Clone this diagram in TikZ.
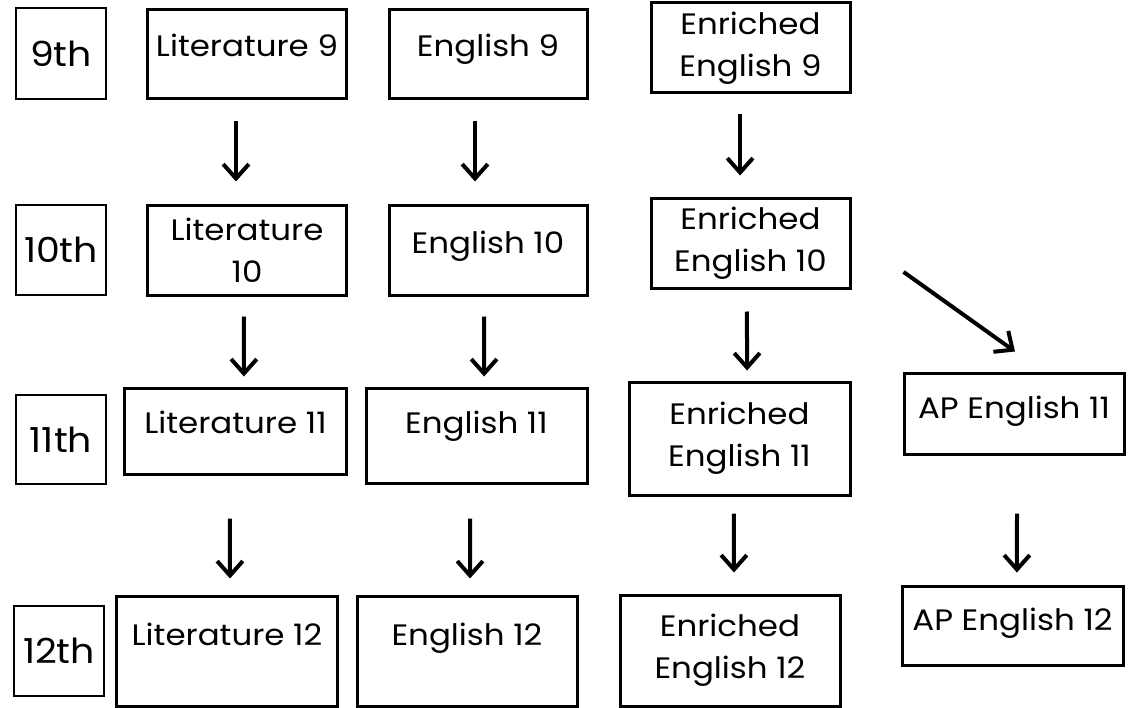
\documentclass[tikz,border=0pt]{standalone}
\usepackage{fontspec}
\setmainfont{Poppins}[FakeStretch=1.1]
\usetikzlibrary{arrows.meta}

\begin{document}
\begin{tikzpicture}[x=0.25mm, y=-0.25mm,
		grade/.style={draw, line width=0.4mm, inner sep=0pt, font=\fontsize{24.5}{30}\selectfont},
		course/.style={draw, line width=0.75mm, inner sep=0pt, align=center, font=\fontsize{21}{30}\selectfont},
		lift/.style={text height=14pt, text depth=#1},
		arr/.style={line width=1mm, -{Straight Barb[length=3.6mm, width=6.4mm]}}]
				%%%%% START %%%%%
				\useasboundingbox (0, 0) rectangle (1131, 708);
				
				% grade labels
				\node[grade, minimum width=22.5mm, minimum height=22.75mm] (g9) at (61, 53.5) {9th};
				\node[grade, minimum width=22.5mm, minimum height=22.5mm] (g10) at (61, 250) {10th};
				\node[grade, minimum width=22.5mm, minimum height=22.25mm] (g11) at (61, 439.5) {11th};
				\node[grade, minimum width=22.5mm, minimum height=22.5mm] (g12) at (59, 651) {12th};
				
				% 9th
				\node[course, lift=3.75mm, minimum width=49.5mm, minimum height=22.25mm] (lit9) at (247, 54.5) {Literature 9};
				\node[course, lift=3.75mm, minimum width=49.5mm, minimum height=22.25mm] (eng9) at (488, 54.5) {English 9};
				\node[course, minimum width=49.75mm, minimum height=22.5mm] (enr9) at (750.5, 48) {Enriched\\English 9};
				
				% 10th
				\node[course, minimum width=49.5mm, minimum height=22.25mm] (lit10) at (247, 250.5) {Literature\\10};
				\node[course, lift=3.25mm, minimum width=49.5mm, minimum height=22.25mm] (eng10) at (488, 250.5) {English 10};
				\node[course, minimum width=49.75mm, minimum height=22.25mm] (enr10) at (750.5, 243.5) {Enriched\\English 10};
				
				% 11th
				\node[course, lift=3.5mm, minimum width=55.25mm, minimum height=21.5mm] (lit11) at (235.5, 431) {Literature 11};
				\node[course, lift=5.75mm, minimum width=55.25mm, minimum height=23.75mm] (eng11) at (476.5, 435.5) {English 11};
				\node[course, minimum width=55.25mm, minimum height=28.25mm] (enr11) at (739.5, 438.5) {Enriched\\English 11};
				\node[course, lift=2.25mm, minimum width=55mm, minimum height=20.25mm] (ap11) at (1014, 413.5) {AP English 11};
				
				% 12th
				\node[course, lift=7.5mm, minimum width=55mm, minimum height=27.5mm] (lit12) at (227, 651) {Literature 12};
				\node[course, lift=7.5mm, minimum width=55mm, minimum height=27.5mm] (eng12) at (467, 651) {English 12};
				\node[course, minimum width=55mm, minimum height=27.75mm] (enr12) at (730, 650.5) {Enriched\\English 12};
				\node[course, lift=2.25mm, minimum width=55.25mm, minimum height=19.75mm] (ap12) at (1012.5, 625.5) {AP English 12};
				
				% arrows
				\draw[arr] ([xshift=-2.75mm, yshift=-5.25mm]lit9.south) -- ([xshift=-2.75mm, yshift=5.75mm]lit10.north);
				\draw[arr] ([xshift=-3.25mm, yshift=-5.25mm]eng9.south) -- ([xshift=-3.25mm, yshift=5.75mm]eng10.north);
				\draw[arr] ([xshift=-2.6mm, yshift=-5mm]enr9.south) -- ([xshift=-2.6mm, yshift=5.5mm]enr10.north);
				
				\draw[arr] ([xshift=-0.75mm, yshift=-5mm]lit10.south) -- ([xshift=2.1mm, yshift=2.5mm]lit11.north);
				\draw[arr] ([xshift=-1mm, yshift=-5mm]eng10.south) -- ([xshift=1.9mm, yshift=2.5mm]eng11.north);
				\draw[arr] ([xshift=-0.9mm, yshift=-5.5mm]enr10.south) -- ([xshift=1.9mm, yshift=2.5mm]enr11.north);
				\draw[arr] ([xshift=13mm, yshift=-7.1mm]enr10.east) -- ([xshift=0.25mm, yshift=5mm]ap11.north);
				
				\draw[arr] ([xshift=-1.4mm, yshift=-10.75mm]lit11.south) -- ([xshift=0.75mm, yshift=4mm]lit12.north);
				\draw[arr] ([xshift=-1.6mm, yshift=-8.5mm]eng11.south) -- ([xshift=0.75mm, yshift=4mm]eng12.north);
				\draw[arr] ([xshift=-1.4mm, yshift=-4.25mm]enr11.south) -- ([xshift=1mm, yshift=5.25mm]enr12.north);
				\draw[arr] ([xshift=0.75mm, yshift=-14.5mm]ap11.south) -- ([xshift=1.1mm, yshift=3mm]ap12.north);
				%%%%% END %%%%%
\end{tikzpicture}
\end{document}
